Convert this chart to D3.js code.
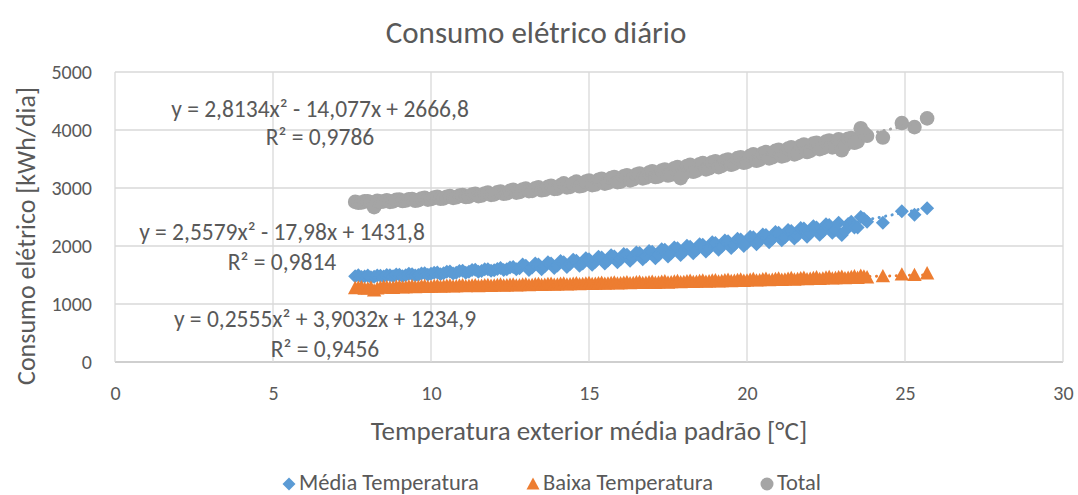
<!DOCTYPE html>
<html><head><meta charset="utf-8">
<script src="https://cdn.jsdelivr.net/npm/d3@7"></script>
<style>
body{margin:0;background:#fff;}
text{font-family:Calibri,Carlito,Lato,sans-serif;fill:#595959;}
</style></head>
<body><svg id="c" width="1078" height="495"></svg>
<script>
const temps = [7.6,7.8,8.0,8.2,8.4,8.6,8.8,9.0,9.2,9.4,9.6,9.8,10.0,10.2,10.4,10.6,10.8,11.0,11.2,11.4,11.6,11.8,12.0,12.2,12.4,12.6,12.8,13.0,13.2,13.4,13.6,13.8,14.0,14.2,14.4,14.6,14.8,15.0,15.2,15.4,15.6,15.8,16.0,16.2,16.4,16.6,16.8,17.0,17.2,17.4,17.6,17.8,18.0,18.2,18.4,18.6,18.8,19.0,19.2,19.4,19.6,19.8,20.0,20.2,20.4,20.6,20.8,21.0,21.2,21.4,21.6,21.8,22.0,22.2,22.4,22.6,22.8,23.0,23.2,23.4,23.6,23.8,24.3,24.9,25.3,25.7];
const media = [1480,1465,1490,1470,1485,1500,1478,1505,1495,1515,1500,1530,1520,1545,1530,1560,1540,1575,1555,1590,1570,1600,1580,1620,1600,1640,1615,1660,1630,1680,1650,1700,1665,1720,1690,1745,1700,1770,1730,1800,1750,1820,1770,1850,1800,1880,1820,1900,1840,1935,1875,1960,1900,1985,1930,2020,1960,2050,1990,2080,2020,2110,2050,2150,2090,2190,2120,2230,2150,2260,2180,2300,2220,2320,2250,2360,2280,2190,2380,2320,2500,2420,2400,2600,2540,2650];
const baixa = [1275,1290,1270,1235,1285,1295,1280,1300,1290,1305,1295,1310,1300,1315,1305,1318,1308,1322,1312,1326,1316,1330,1320,1335,1322,1338,1326,1342,1330,1346,1334,1350,1338,1355,1342,1360,1345,1364,1350,1368,1354,1372,1358,1378,1362,1382,1368,1386,1372,1392,1376,1396,1382,1402,1386,1408,1392,1412,1396,1418,1402,1424,1408,1430,1412,1436,1418,1442,1424,1448,1430,1454,1436,1460,1442,1466,1448,1472,1454,1480,1490,1460,1480,1510,1500,1530];
const total = [2760,2750,2770,2670,2760,2790,2770,2800,2785,2810,2790,2830,2810,2850,2820,2860,2840,2880,2850,2900,2870,2920,2890,2940,2910,2970,2930,2990,2950,3010,2970,3040,2990,3080,3020,3110,3040,3130,3060,3160,3090,3190,3110,3220,3150,3250,3180,3290,3200,3320,3230,3360,3250,3400,3300,3430,3340,3460,3380,3490,3420,3530,3450,3580,3490,3620,3530,3660,3560,3700,3600,3750,3640,3780,3690,3820,3720,3650,3850,3780,4030,3900,3870,4120,4050,4200];
const temps2 = [7.7,7.9,8.1,8.3,8.5,8.7,8.9,9.1,9.3,9.5,9.7,9.9,10.1,10.3,10.5,10.7,10.9,11.1,11.3,11.5,11.7,11.9,12.1,12.3,12.5,12.7,12.9,13.1,13.3,13.5,13.7,13.9,14.1,14.3,14.5,14.7,14.9,15.1,15.3,15.5,15.7,15.9,16.1,16.3,16.5,16.7,16.9,17.1,17.3,17.5,17.7,17.9,18.1,18.3,18.5,18.7,18.9,19.1,19.3,19.5,19.7,19.9,20.1,20.3,20.5,20.7,20.9,21.1,21.3,21.5,21.7,21.9,22.1,22.3,22.5,22.7,22.9,23.1,23.3,23.5,23.7];
const media2 = [1495,1475,1460,1490,1475,1495,1510,1480,1520,1490,1525,1505,1540,1515,1555,1525,1570,1540,1585,1555,1600,1575,1605,1585,1630,1600,1680,1585,1700,1600,1720,1620,1740,1640,1765,1660,1790,1675,1815,1700,1840,1720,1860,1745,1890,1770,1915,1790,1945,1820,1975,1845,2005,1875,2030,1905,2065,1935,2095,1965,2125,2000,2160,2030,2200,2065,2240,2100,2275,2130,2310,2160,2340,2195,2375,2230,2400,2260,2420,2320,2470];
const baixa2 = [1285,1265,1280,1270,1292,1282,1298,1286,1302,1290,1306,1296,1310,1300,1314,1304,1318,1308,1320,1310,1325,1314,1328,1318,1332,1320,1336,1326,1340,1330,1344,1334,1348,1338,1352,1342,1356,1346,1360,1350,1364,1354,1368,1358,1374,1362,1378,1366,1384,1370,1388,1376,1394,1380,1398,1386,1404,1390,1410,1396,1414,1400,1420,1406,1426,1412,1432,1418,1438,1422,1444,1428,1450,1434,1456,1440,1462,1446,1468,1452,1475];
const total2 = [2745,2770,2755,2780,2770,2760,2795,2775,2805,2780,2820,2800,2835,2815,2850,2830,2870,2845,2885,2860,2905,2880,2925,2900,2950,2920,2975,2945,2995,2960,3020,2985,3045,3010,3080,3030,3110,3050,3140,3075,3170,3100,3200,3130,3230,3165,3265,3190,3300,3215,3340,3170,3380,3280,3410,3320,3445,3360,3475,3400,3515,3435,3555,3470,3600,3510,3640,3545,3680,3580,3725,3620,3765,3670,3800,3700,3840,3740,3860,3800,3950];
const seriesNames = ["Média Temperatura","Baixa Temperatura","Total"];
const seriesColors = ["#5B9BD5","#ED7D31","#A5A5A5"];
const trendCoefs = [[2.5579,-17.98,1431.8],[0.2555,3.9032,1234.9],[2.8134,-14.077,2666.8]];
const trendLabels = [["y = 2,5579x² - 17,98x + 1431,8","R² = 0,9814"],["y = 0,2555x² + 3,9032x + 1234,9","R² = 0,9456"],["y = 2,8134x² - 14,077x + 2666,8","R² = 0,9786"]];
const xTicks = [0,5,10,15,20,25,30];
const yTicks = [0,1000,2000,3000,4000,5000];

const FONT = "Calibri,Carlito,Lato,sans-serif";
const svg = d3.select("#c");
const x = d3.scaleLinear().domain([0,30]).range([115,1063]);
const y = d3.scaleLinear().domain([0,5000]).range([362,72]);

// grid
svg.append("g").selectAll("line").data(yTicks).join("line")
 .attr("x1",x(0)).attr("x2",x(30)).attr("y1",d=>y(d)).attr("y2",d=>y(d))
 .attr("stroke",d=>d===0?"#BFBFBF":"#D9D9D9").attr("stroke-width",d=>d===0?1.5:1.3);
svg.append("g").selectAll("line").data(xTicks).join("line")
 .attr("x1",d=>x(d)).attr("x2",d=>x(d)).attr("y1",y(0)).attr("y2",y(5000))
 .attr("stroke","#D9D9D9").attr("stroke-width",1.3);

// axes labels
const xAxis = d3.axisBottom(x).tickValues(xTicks).tickSize(0).tickPadding(0).tickFormat(d3.format("d"));
const gx = svg.append("g").attr("transform",`translate(0,${y(0)})`).call(xAxis);
gx.select(".domain").remove();
gx.selectAll("text").attr("y",38).attr("dy",null).attr("font-size",20).style("font-family",FONT).attr("fill","#595959");
const yAxis = d3.axisLeft(y).tickValues(yTicks).tickSize(0).tickPadding(23).tickFormat(d3.format("d"));
const gy = svg.append("g").attr("transform",`translate(${x(0)},0)`).call(yAxis);
gy.select(".domain").remove();
gy.selectAll("text").attr("font-size",20).style("font-family",FONT).attr("fill","#595959");

// marker paths
function markerPath(i, s){
  if(i===0) return `M0,${-s}L${s},0L0,${s}L${-s},0Z`;
  if(i===1) return `M0,${-s}L${s},${s*0.85}L${-s},${s*0.85}Z`;
  return d3.arc()({innerRadius:0,outerRadius:s,startAngle:0,endAngle:2*Math.PI});
}
const allT = temps.concat(temps2);
const data = [media.concat(media2), baixa.concat(baixa2), total.concat(total2)];
const sizes = [7,7.2,7.3];
data.forEach((vals,i)=>{
  const pts = vals.map((v,j)=>[allT[j],v]).filter(p=>p[0]!=null&&p[1]!=null).sort((a,b)=>a[0]-b[0]);
  svg.append("g").selectAll("path").data(pts).join("path")
   .attr("d",markerPath(i,sizes[i]))
   .attr("transform",d=>`translate(${x(d[0])},${y(d[1])})`)
   .attr("fill",seriesColors[i]);
});
// trendlines
const xmin = d3.min(allT), xmax = d3.max(allT);
const xs = d3.range(xmin, xmax+0.001, 0.05);
trendCoefs.forEach((c,i)=>{
  svg.append("path").datum(xs)
   .attr("d",d3.line().x(d=>x(d)).y(d=>y(c[0]*d*d+c[1]*d+c[2])))
   .attr("fill","none").attr("stroke",seriesColors[i]).attr("stroke-width",3)
   .attr("stroke-linecap","round").attr("stroke-dasharray","0.1 6.5");
});

// equation labels (baselines)
const eqPos = [[282,240,270],[325,327,357],[320,117,145]];
trendLabels.forEach((l,i)=>{
  const p = eqPos[i];
  svg.append("text").attr("x",p[0]).attr("y",p[1]).attr("text-anchor","middle").attr("font-size",23.5).text(l[0]);
  svg.append("text").attr("x",p[0]).attr("y",p[2]).attr("text-anchor","middle").attr("font-size",23.5).text(l[1]);
});

// titles
svg.append("text").attr("x",536).attr("y",43).attr("text-anchor","middle").attr("font-size",31).text("Consumo elétrico diário");
svg.append("text").attr("x",589).attr("y",440).attr("text-anchor","middle").attr("font-size",27).text("Temperatura exterior média padrão [°C]");
svg.append("text").attr("transform","translate(35,236) rotate(-90)").attr("text-anchor","middle").attr("font-size",26).text("Consumo elétrico [kWh/dia]");

// legend
const legX = [289,533,767];
seriesNames.forEach((n,i)=>{
  const g = svg.append("g").attr("transform",`translate(${legX[i]},484)`);
  g.append("path").attr("d",markerPath(i,6.5)).attr("fill",seriesColors[i]);
  g.append("text").attr("x",10).attr("y",5.5).attr("font-size",22.5).text(n);
});
</script></body></html>
